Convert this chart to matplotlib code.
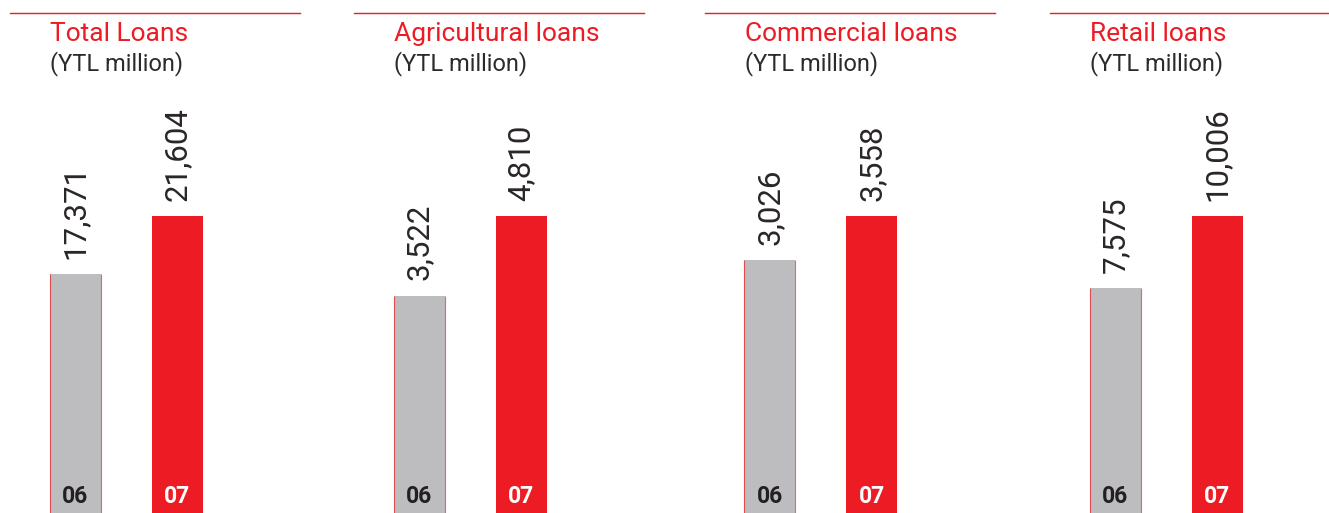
import matplotlib.pyplot as plt
from matplotlib.lines import Line2D

titles = ['Total Loans', 'Agricultural loans', 'Commercial loans', 'Retail loans']
subtitle = '(YTL million)'
years = ['06', '07']
loans_06 = [17371, 3522, 3026, 7575]
loans_07 = [21604, 4810, 3558, 10006]

RED = '#ED1C24'
GREY = '#BDBDBF'
W, H = 1329, 513

plt.rcParams['font.family'] = ['Roboto', 'DejaVu Sans']

fig = plt.figure(figsize=(W / 100, H / 100), dpi=100)

# pixel centre of the 06 bar in each panel
centres = [75, 419, 770, 1115]
unit = 102      # px between the two bar centres
top_px = 216    # where the 07 bar ends, from top

for i, title in enumerate(titles):
    c = centres[i]
    ax = fig.add_axes([(c - unit / 2) / W, 0, 2 * unit / W, (H - top_px) / H])
    vals = [loans_06[i], loans_07[i]]
    x = [0, 1]
    ax.bar(x, vals, width=0.5, color=[GREY, RED], edgecolor='none')
    # thin red sides on the grey bar
    ax.vlines([x[0] - 0.25, x[0] + 0.25], 0, vals[0], color=RED, lw=0.8, alpha=0.7)
    ax.set_xlim(-0.5, 1.5)
    ax.set_ylim(0, max(vals))
    ax.axis('off')

    for xi, v, yr in zip(x, vals, years):
        ax.annotate(f'{v:,}', (xi, v), xytext=(0, 11), textcoords='offset points',
                    rotation=90, ha='center', va='bottom', fontsize=22.5,
                    color='#2A2627', annotation_clip=False)
        ax.annotate(yr, (xi, 0), xycoords=('data', 'axes fraction'),
                    xytext=(0, 7.5), textcoords='offset points', ha='center',
                    va='baseline', fontsize=16.5, fontweight='bold',
                    color='#231F20' if yr == '06' else 'white')

    left = c - 25
    fig.add_artist(Line2D([(c - 65) / W, (c + 225) / W], [1 - 13 / H] * 2,
                          color=RED, lw=1.0))
    fig.text(left / W, 1 - 41 / H, title, color=RED, fontsize=19, va='baseline')
    fig.text(left / W, 1 - 70 / H, subtitle, color='#2B2B2B', fontsize=17,
             va='baseline')

fig.savefig('out.png', dpi=100)
